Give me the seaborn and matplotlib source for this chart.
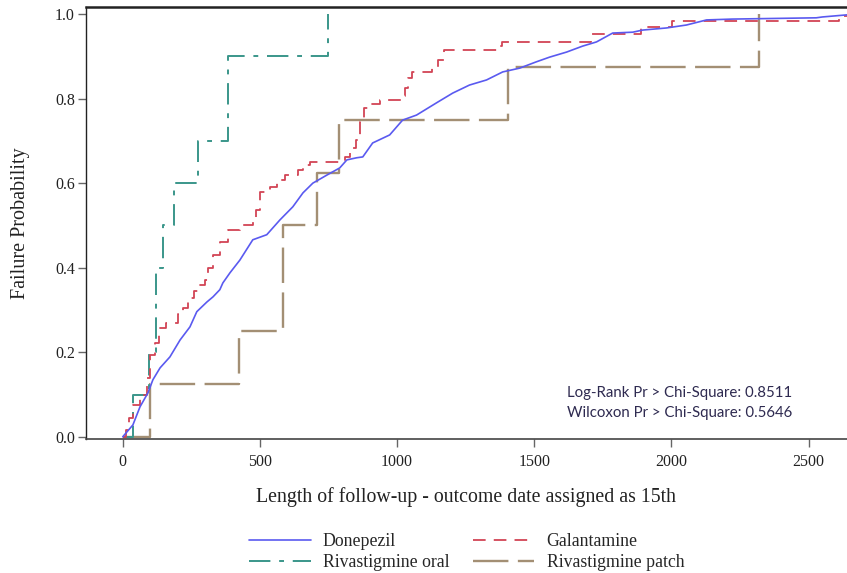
import matplotlib
matplotlib.use("Agg")
import matplotlib.pyplot as plt
import seaborn as sns
import pandas as pd

# ---- data (time in days, cumulative failure probability) ----
donepezil_t = [0, 37, 63, 92, 110, 136, 172, 209, 245, 270, 307, 329, 354, 365, 391, 427,
               474, 525, 573, 620, 657, 693, 744, 791, 817, 853, 875, 911, 973, 1020, 1071,
               1144, 1203, 1264, 1326, 1385, 1447, 1508, 1556, 1618, 1676, 1727, 1786, 1859,
               1895, 1982, 2055, 2128, 2222, 2528, 2550, 2640]
donepezil_f = [0.0, 0.028, 0.071, 0.104, 0.135, 0.163, 0.189, 0.229, 0.260, 0.296, 0.319,
               0.331, 0.348, 0.364, 0.388, 0.418, 0.466, 0.478, 0.513, 0.544, 0.577, 0.600,
               0.619, 0.636, 0.655, 0.660, 0.662, 0.695, 0.714, 0.749, 0.761, 0.790, 0.813,
               0.832, 0.844, 0.863, 0.872, 0.887, 0.898, 0.910, 0.924, 0.934, 0.955, 0.957,
               0.962, 0.967, 0.974, 0.986, 0.988, 0.991, 0.993, 0.998]

galantamine_t = [0, 12, 23, 37, 63, 88, 99, 118, 132, 158, 201, 220, 238, 260, 278, 300,
                 311, 329, 355, 383, 427, 474, 485, 500, 536, 562, 591, 638, 656, 682, 809,
                 827, 849, 864, 878, 900, 937, 1017, 1028, 1039, 1053, 1126, 1148, 1170,
                 1374, 1384, 1708, 1890, 2003, 2611, 2640]
galantamine_f = [0.0, 0.017, 0.045, 0.076, 0.099, 0.139, 0.194, 0.222, 0.258, 0.270, 0.291,
                 0.305, 0.329, 0.345, 0.359, 0.371, 0.400, 0.430, 0.461, 0.489, 0.501, 0.518,
                 0.537, 0.579, 0.591, 0.608, 0.619, 0.631, 0.643, 0.650, 0.662, 0.683, 0.702,
                 0.745, 0.778, 0.787, 0.797, 0.806, 0.825, 0.849, 0.863, 0.872, 0.891, 0.915,
                 0.924, 0.934, 0.953, 0.969, 0.983, 0.995, 0.995]

riva_oral_t = [0, 36, 95, 120, 146, 186, 274, 383, 748]
riva_oral_f = [0.0, 0.1, 0.2, 0.4, 0.5, 0.6, 0.7, 0.9, 1.0]

riva_patch_t = [0, 99, 423, 584, 708, 788, 1405, 2321]
riva_patch_f = [0.0, 0.125, 0.25, 0.5, 0.625, 0.75, 0.875, 1.0]

series_names = ["Donepezil", "Galantamine", "Rivastigmine oral", "Rivastigmine patch"]
x_ticks = [0, 500, 1000, 1500, 2000, 2500]
y_ticks = [0.0, 0.2, 0.4, 0.6, 0.8, 1.0]
annot_lines = ["Log-Rank Pr > Chi-Square: 0.8511", "Wilcoxon Pr > Chi-Square: 0.5646"]

# ---- styling ----
sns.set_style("white")
plt.rcParams["font.family"] = ["Liberation Serif", "DejaVu Serif"]

fig = plt.figure(figsize=(8.47, 5.73), dpi=100)
ax = fig.add_axes([0.1015, 0.234, 0.8985, 0.7538])

styles = {
    "Donepezil": dict(color="#5a5af0", lw=1.2, ls="-", ds="default"),
    "Galantamine": dict(color="#d24455", lw=1.3, ls=(0, (7, 4.5)), ds="steps-post"),
    "Rivastigmine oral": dict(color="#3a968a", lw=1.4, ls=(0, (11, 4.5, 2.5, 4.5)), ds="steps-post"),
    "Rivastigmine patch": dict(color="#a38f74", lw=1.7, ls=(0, (15, 4)), ds="steps-post"),
}
data = {
    "Donepezil": (donepezil_t, donepezil_f),
    "Galantamine": (galantamine_t, galantamine_f),
    "Rivastigmine oral": (riva_oral_t, riva_oral_f),
    "Rivastigmine patch": (riva_patch_t, riva_patch_f),
}
order = ["Rivastigmine patch", "Rivastigmine oral", "Galantamine", "Donepezil"]
handles = {}
for name in order:
    t, f = data[name]
    df = pd.DataFrame({"t": t, "f": f})
    st = styles[name]
    sns.lineplot(data=df, x="t", y="f", ax=ax, estimator=None, sort=False,
                 drawstyle=st["ds"], color=st["color"], linewidth=st["lw"],
                 linestyle=st["ls"], label=name)
    handles[name] = ax.get_lines()[-1]

ax.set_xlim(-134, 2640)
ax.set_ylim(-0.005, 1.0166)
ax.set_xticks(x_ticks)
ax.set_xticklabels([str(v) for v in x_ticks])
ax.set_yticks(y_ticks)
ax.set_yticklabels([f"{v:.1f}" for v in y_ticks])
ax.tick_params(axis="both", which="both", direction="out", length=6, width=1,
               color="#666666", labelsize=11.5, labelcolor="#222222", pad=2)
ax.tick_params(axis="x", bottom=True, pad=5)
ax.tick_params(axis="y", left=True)

for side in ["left", "bottom", "top"]:
    ax.spines[side].set_visible(True)
    ax.spines[side].set_color("#222222")
ax.spines["top"].set_linewidth(1.8)
ax.spines["left"].set_linewidth(1.0)
ax.spines["bottom"].set_linewidth(1.2)
ax.spines["bottom"].set_color("#444444")
ax.spines["right"].set_visible(False)

ax.set_xlabel("Length of follow-up - outcome date assigned as 15th", fontsize=14.3,
              color="#222222", labelpad=12)
ax.set_ylabel("Failure Probability", fontsize=14.5, color="#222222", labelpad=18)

for line, yfrac in zip(annot_lines, [0.1065, 0.059]):
    ax.text(0.6315, yfrac, line, transform=ax.transAxes,
            family=["Lato", "DejaVu Sans"], fontsize=10.8, color="#2e2a50",
            va="center", ha="left")

leg_order = ["Donepezil", "Rivastigmine oral", "Galantamine", "Rivastigmine patch"]
leg_handles = [handles[n] for n in leg_order]
ax.legend(leg_handles, leg_order, loc="upper left", bbox_to_anchor=(0.2055, -0.201),
          ncol=2, frameon=False, fontsize=12.8, handlelength=3.45, handletextpad=0.68,
          columnspacing=1.33, labelspacing=0.22, borderaxespad=0)

fig.savefig("out.png", dpi=100)
